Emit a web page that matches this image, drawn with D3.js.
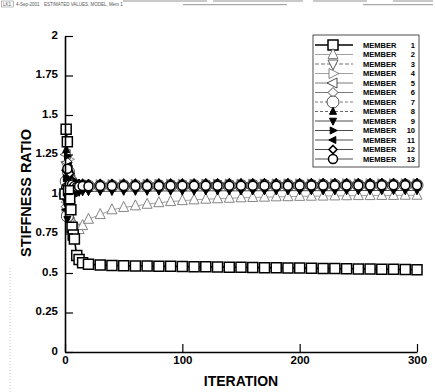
<!DOCTYPE html>
<html><head><meta charset="utf-8">
<script src="https://cdn.jsdelivr.net/npm/d3@7"></script>
<style>
html,body{margin:0;padding:0;background:#fff;}
svg{display:block;font-family:"Liberation Sans",Arial,Helvetica,sans-serif;}
</style></head><body>
<svg id="chart" width="435" height="392"></svg>
<script>
// Iteration numbers at which each member's stiffness ratio was recorded
const iterations = [0,1,2,3,4,5,6,7,8,10,12,15,
  20,30,40,50,60,70,80,90,100,110,120,130,140,150,160,170,180,190,200,
  210,220,230,240,250,260,270,280,290,300];

const member1 = [1.00,1.41,1.33,1.02,0.97,0.90,0.79,0.74,0.715,0.61,0.585,0.565,
  0.555,0.550,0.548,0.546,0.545,0.544,0.543,0.542,0.541,0.540,0.539,0.538,0.537,0.536,0.535,0.534,0.533,0.532,0.531,
  0.530,0.529,0.528,0.527,0.526,0.525,0.524,0.523,0.522,0.521];
const member2 = [1.00,0.97,0.93,0.90,0.87,0.85,0.83,0.81,0.80,0.785,0.775,0.80,
  0.84,0.87,0.90,0.915,0.925,0.935,0.945,0.952,0.958,0.963,0.967,0.970,0.973,0.976,0.978,0.980,0.982,0.983,0.985,
  0.986,0.987,0.988,0.989,0.990,0.990,0.991,0.991,0.992,0.992];
const member3 = [1.00,1.18,1.06,0.93,1.08,0.98,1.05,1.01,1.03,1.02,1.03,1.03,
  1.030,1.031,1.032,1.032,1.033,1.033,1.033,1.034,1.034,1.034,1.035,1.035,1.035,1.035,1.036,1.036,1.036,1.036,1.036,
  1.037,1.037,1.037,1.037,1.037,1.037,1.038,1.038,1.038,1.038];
const member4 = [1.00,0.88,1.12,1.22,0.95,1.10,1.02,1.07,1.04,1.06,1.055,1.06,
  1.058,1.059,1.060,1.060,1.061,1.061,1.061,1.062,1.062,1.062,1.062,1.063,1.063,1.063,1.063,1.063,1.064,1.064,1.064,
  1.064,1.064,1.064,1.065,1.065,1.065,1.065,1.065,1.065,1.065];
const member5 = [1.00,1.25,0.90,1.15,0.97,1.09,1.03,1.06,1.04,1.05,1.045,1.048,
  1.048,1.049,1.050,1.050,1.051,1.051,1.051,1.052,1.052,1.052,1.052,1.053,1.053,1.053,1.053,1.053,1.054,1.054,1.054,
  1.054,1.054,1.054,1.055,1.055,1.055,1.055,1.055,1.055,1.055];
const member6 = [1.00,0.92,1.20,0.98,1.12,1.00,1.06,1.03,1.05,1.04,1.042,1.044,
  1.044,1.045,1.045,1.046,1.046,1.046,1.047,1.047,1.047,1.047,1.048,1.048,1.048,1.048,1.048,1.049,1.049,1.049,1.049,
  1.049,1.049,1.050,1.050,1.050,1.050,1.050,1.050,1.050,1.050];
const member7 = [1.00,1.08,0.86,1.14,1.00,1.08,1.02,1.06,1.04,1.05,1.048,1.05,
  1.050,1.050,1.051,1.051,1.051,1.052,1.052,1.052,1.052,1.053,1.053,1.053,1.053,1.053,1.054,1.054,1.054,1.054,1.054,
  1.054,1.055,1.055,1.055,1.055,1.055,1.055,1.055,1.056,1.056];
const member8 = [1.00,1.28,1.10,0.90,1.16,1.02,1.09,1.05,1.07,1.065,1.068,1.07,
  1.068,1.069,1.069,1.070,1.070,1.070,1.071,1.071,1.071,1.071,1.072,1.072,1.072,1.072,1.072,1.073,1.073,1.073,1.073,
  1.073,1.073,1.073,1.074,1.074,1.074,1.074,1.074,1.074,1.074];
const member9 = [1.00,0.95,0.84,1.08,0.94,1.04,0.99,1.02,1.00,1.01,1.012,1.015,
  1.016,1.017,1.017,1.018,1.018,1.018,1.019,1.019,1.019,1.019,1.020,1.020,1.020,1.020,1.020,1.021,1.021,1.021,1.021,
  1.021,1.021,1.021,1.022,1.022,1.022,1.022,1.022,1.022,1.022];
const member10 = [1.00,1.10,1.24,0.96,1.10,1.01,1.07,1.04,1.06,1.055,1.058,1.06,
  1.058,1.059,1.059,1.060,1.060,1.060,1.061,1.061,1.061,1.061,1.061,1.062,1.062,1.062,1.062,1.062,1.062,1.063,1.063,
  1.063,1.063,1.063,1.063,1.063,1.064,1.064,1.064,1.064,1.064];
const member11 = [1.00,0.90,1.06,1.18,0.99,1.07,1.02,1.05,1.03,1.035,1.037,1.038,
  1.038,1.039,1.039,1.040,1.040,1.040,1.041,1.041,1.041,1.041,1.042,1.042,1.042,1.042,1.042,1.042,1.043,1.043,1.043,
  1.043,1.043,1.043,1.043,1.044,1.044,1.044,1.044,1.044,1.044];
const member12 = [1.00,1.15,0.97,1.05,1.13,1.03,1.08,1.05,1.07,1.06,1.062,1.064,
  1.063,1.064,1.064,1.065,1.065,1.065,1.066,1.066,1.066,1.066,1.067,1.067,1.067,1.067,1.067,1.068,1.068,1.068,1.068,
  1.068,1.068,1.068,1.069,1.069,1.069,1.069,1.069,1.069,1.069];
const member13 = [1.00,1.04,1.16,0.94,1.06,1.02,1.06,1.04,1.05,1.045,1.048,1.05,
  1.049,1.050,1.050,1.051,1.051,1.051,1.051,1.052,1.052,1.052,1.052,1.052,1.053,1.053,1.053,1.053,1.053,1.053,1.054,
  1.054,1.054,1.054,1.054,1.054,1.054,1.055,1.055,1.055,1.055];

const memberLabels = ["1","2","3","4","5","6","7","8","9","10","11","12","13"];
const yTickValues = [0,0.25,0.5,0.75,1,1.25,1.5,1.75,2];
const xTickValues = [0,100,200,300];

const seriesValues = [member1,member2,member3,member4,member5,member6,member7,
  member8,member9,member10,member11,member12,member13];

// Marker and line style for each member
const styles = [
  {shape:"square",  rot:0,   size:10, fill:"#fff", stroke:"#000", sw:1.5, line:"#000", lw:1.6, dash:null},
  {shape:"tri",     rot:0,   size:10, fill:"#fff", stroke:"#777", sw:0.9, line:"#888", lw:0.8, dash:null},
  {shape:"tri",     rot:180, size:10, fill:"#fff", stroke:"#333", sw:0.8, line:"#333", lw:0.7, dash:"4,2"},
  {shape:"tri",     rot:90,  size:10, fill:"#fff", stroke:"#666", sw:0.8, line:"#888", lw:0.8, dash:null},
  {shape:"tri",     rot:-90, size:10, fill:"#fff", stroke:"#222", sw:0.8, line:"#222", lw:0.6, dash:null},
  {shape:"diamond", rot:0,   size:10, fill:"#fff", stroke:"#222", sw:0.8, line:"#222", lw:0.6, dash:null},
  {shape:"circle",  rot:0,   size:12, fill:"#fff", stroke:"#222", sw:0.8, line:"#222", lw:0.6, dash:"3,2"},
  {shape:"tri",     rot:0,   size:7,  fill:"#000", stroke:"#000", sw:1.0, line:"#000", lw:0.6, dash:"3,2"},
  {shape:"tri",     rot:180, size:7,  fill:"#000", stroke:"#000", sw:1.0, line:"#000", lw:0.7, dash:null},
  {shape:"tri",     rot:90,  size:7,  fill:"#000", stroke:"#000", sw:1.0, line:"#000", lw:0.7, dash:null},
  {shape:"tri",     rot:-90, size:7,  fill:"#000", stroke:"#000", sw:1.0, line:"#000", lw:0.7, dash:null},
  {shape:"diamond", rot:0,   size:8,  fill:"#fff", stroke:"#000", sw:1.6, line:"#000", lw:0.7, dash:null},
  {shape:"circle",  rot:0,   size:9,  fill:"#fff", stroke:"#000", sw:1.5, line:"#000", lw:0.7, dash:null}
];

function shapePath(shape, s) {
  const h = s / 2;
  switch (shape) {
    case "square": return `M${-h},${-h}h${s}v${s}h${-s}Z`;
    case "circle": return `M${h},0A${h},${h} 0 1,1 ${-h},0A${h},${h} 0 1,1 ${h},0Z`;
    case "diamond": return `M0,${-h}L${h},0L0,${h}L${-h},0Z`;
    default: return `M0,${-0.6*s}L${h},${0.4*s}L${-h},${0.4*s}Z`;
  }
}

const svg = d3.select("#chart");
const x = d3.scaleLinear().domain([0, 300]).range([65, 417]);
const y = d3.scaleLinear().domain([0, 2]).range([352, 36]);

// Plot header strip
const header = svg.append("g").attr("fill", "#555").attr("font-size", 4.5);
header.append("text").attr("x", 3).attr("y", 5.5).text("LK1");
header.append("text").attr("x", 16).attr("y", 5.5).text("4-Sep-2001");
header.append("text").attr("x", 44).attr("y", 5.5).text("ESTIMATED VALUES, MODEL, Mem 1");
header.append("rect").attr("x", 1.5).attr("y", 1).attr("width", 12).attr("height", 6)
  .attr("fill", "none").attr("stroke", "#777").attr("stroke-width", 0.5);
[[123,207,1],[213,303,1],[313,367,1],[393,433,1],[183,287,4.7],[363,433,4.7]].forEach(d => {
  svg.append("line").attr("x1", d[0]).attr("x2", d[1]).attr("y1", d[2]).attr("y2", d[2])
    .attr("stroke", "#666").attr("stroke-width", 0.7);
});
svg.append("line").attr("x1", 10).attr("x2", 10).attr("y1", 268).attr("y2", 392)
  .attr("stroke", "#999").attr("stroke-width", 0.6).attr("stroke-dasharray", "1,2");

// Series: lines then markers, member 1 drawn last so it sits on top
const order = [1,2,3,4,5,6,7,8,9,10,11,12,0];
const plot = svg.append("g");
order.forEach(k => {
  const st = styles[k];
  const pts = iterations.map((it, i) => [it, seriesValues[k][i]]);
  const line = d3.line().x(d => x(d[0])).y(d => y(d[1]));
  plot.append("path").attr("d", line(pts)).attr("fill", "none")
    .attr("stroke", st.line).attr("stroke-width", st.lw)
    .attr("stroke-dasharray", st.dash);
});
order.forEach(k => {
  const st = styles[k];
  const pts = iterations.map((it, i) => [it, seriesValues[k][i]]);
  plot.append("g").selectAll("path").data(pts).join("path")
    .attr("d", shapePath(st.shape, st.size))
    .attr("transform", d => `translate(${x(d[0])},${y(d[1])}) rotate(${st.rot})`)
    .attr("fill", st.fill).attr("stroke", st.stroke).attr("stroke-width", st.sw);
});

// Axes with inward ticks
const yMinor = d3.range(0, 2.0001, 0.05).filter(v => Math.abs(v / 0.25 - Math.round(v / 0.25)) > 1e-6);
const xMinor = d3.range(0, 300.001, 20).filter(v => v % 100 !== 0);

const yAxisG = svg.append("g").attr("transform", "translate(65,0)");
yAxisG.call(d3.axisLeft(y).tickValues(yMinor).tickFormat("").tickSizeInner(-4).tickSizeOuter(0));
yAxisG.call(d3.axisLeft(y).tickValues(yTickValues).tickFormat(d3.format("")).tickSizeInner(-8).tickSizeOuter(0).tickPadding(7));

const xAxisG = svg.append("g").attr("transform", "translate(0,352)");
xAxisG.call(d3.axisBottom(x).tickValues(xMinor).tickFormat("").tickSizeInner(-4).tickSizeOuter(0));
xAxisG.call(d3.axisBottom(x).tickValues(xTickValues).tickFormat(d3.format("")).tickSizeInner(-8).tickSizeOuter(0).tickPadding(5));

svg.selectAll(".domain").attr("stroke", "#000").attr("stroke-width", 1.6);
svg.selectAll(".tick line").attr("stroke", "#000").attr("stroke-width", 1.2);
svg.selectAll(".tick text").attr("font-family", "Liberation Sans, Arial, sans-serif")
  .attr("font-size", 11.5).attr("font-weight", "bold").attr("fill", "#000");
yAxisG.selectAll(".tick text").attr("dy", "0.2em");
xAxisG.selectAll(".tick text").attr("dy", "0.6em");

// Axis titles
svg.append("text").attr("x", 241).attr("y", 386).attr("text-anchor", "middle")
  .attr("font-size", 14).attr("font-weight", "bold").text("ITERATION");
svg.append("text").attr("transform", "translate(31,193) rotate(-90)").attr("text-anchor", "middle")
  .attr("font-size", 14.5).attr("font-weight", "bold").text("STIFFNESS RATIO");

// Legend
const legend = svg.append("g");
legend.append("rect").attr("x", 313).attr("y", 35).attr("width", 106).attr("height", 132)
  .attr("fill", "#fff").attr("stroke", "#222").attr("stroke-width", 0.8);
styles.forEach((st, i) => {
  const ry = 45 + i * 9.5;
  legend.append("line").attr("x1", 315).attr("x2", 353).attr("y1", ry).attr("y2", ry)
    .attr("stroke", st.line).attr("stroke-width", st.lw).attr("stroke-dasharray", st.dash);
  legend.append("path").attr("d", shapePath(st.shape, st.size))
    .attr("transform", `translate(333,${ry}) rotate(${st.rot})`)
    .attr("fill", st.fill).attr("stroke", st.stroke).attr("stroke-width", st.sw);
  legend.append("text").attr("x", 363).attr("y", ry + 2.7)
    .attr("font-size", 7.5).attr("font-weight", "bold").text("MEMBER");
  legend.append("text").attr("x", 415).attr("y", ry + 2.7).attr("text-anchor", "end")
    .attr("font-size", 7.5).attr("font-weight", "bold").text(memberLabels[i]);
});
</script>
</body></html>
